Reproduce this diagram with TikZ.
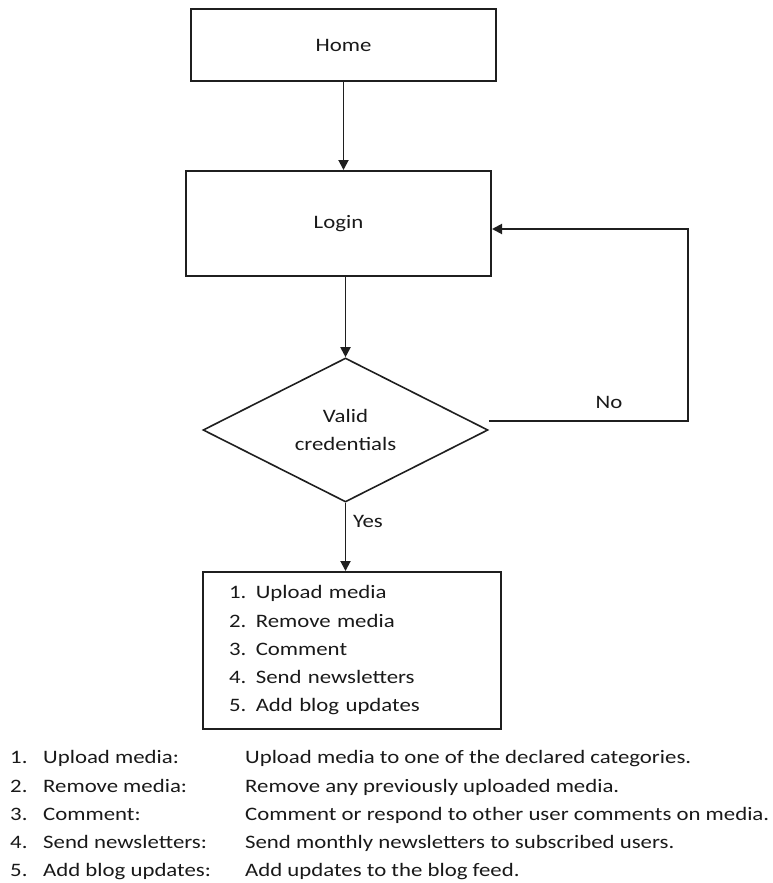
\documentclass[tikz,border=0pt]{standalone}
\usepackage{fontspec}
\setmainfont{Carlito}[FakeStretch=1.2]
\newfontfamily\boxfont{Carlito}[FakeStretch=1.2, WordSpace=0.7]
\usetikzlibrary{shapes.geometric,arrows.meta}
\begin{document}
\begin{tikzpicture}[x=1pt,y=-1pt,
  every node/.style={font=\fontsize{19}{28.25}\selectfont, text=black!90},
  box/.style={draw=black!88, line width=2pt, rectangle, inner sep=0pt},
  decision/.style={draw=black!88, line width=1.6pt, diamond, aspect=2, inner sep=0pt, align=center},
  conn/.style={draw=black!88, line width=1.9pt},
  arr/.style={conn, -{Triangle[length=10pt,width=10pt]}},
  lbl/.style={inner sep=0pt}
]
\useasboundingbox (0,0) rectangle (772,883);

\node[box, minimum width=305pt, minimum height=72pt] (home) at (343.5,45) {Home};
\node[box, minimum width=305pt, minimum height=105pt] (login) at (338.5,223.5) {Login};
\node[decision, minimum width=285pt, minimum height=144pt] (valid) at (345.5,430) {Valid\\[-1pt]credentials};
\node[box, minimum width=298pt, minimum height=157pt, text width=246pt, inner xsep=26pt, align=left,
      font=\boxfont\fontsize{19}{28.25}\selectfont] (list) at (352,650.5)
  {1. Upload media\\2. Remove media\\3. Comment\\4. Send newsletters\\5. Add blog updates};

\coordinate (nocorner) at (688,421);

\draw[arr] (home.south) -- (home.south |- login.north);
\draw[arr] (valid.north |- login.south) -- (valid.north);
\draw[arr] (valid.south) -- (valid.south |- list.north);
\draw[arr] ([yshift=9pt]valid.east) -- (nocorner) |- ([yshift=-5.5pt]login.east);

\node[lbl] (no) at (609,402) {No};
\node[lbl] (yes) at (368,521) {Yes};

\node[lbl, anchor=north west] (legend) at (10,744) {%
  \begin{tabular}{@{}p{33pt}@{}p{202pt}@{}l@{}}
  1. & Upload media: & Upload media to one of the declared categories.\\
  2. & Remove media: & Remove any previously uploaded media.\\
  3. & Comment: & Comment or respond to other user comments on media.\\
  4. & Send newsletters: & Send monthly newsletters to subscribed users.\\
  5. & Add blog updates: & Add updates to the blog feed.
  \end{tabular}};
\end{tikzpicture}
\end{document}
